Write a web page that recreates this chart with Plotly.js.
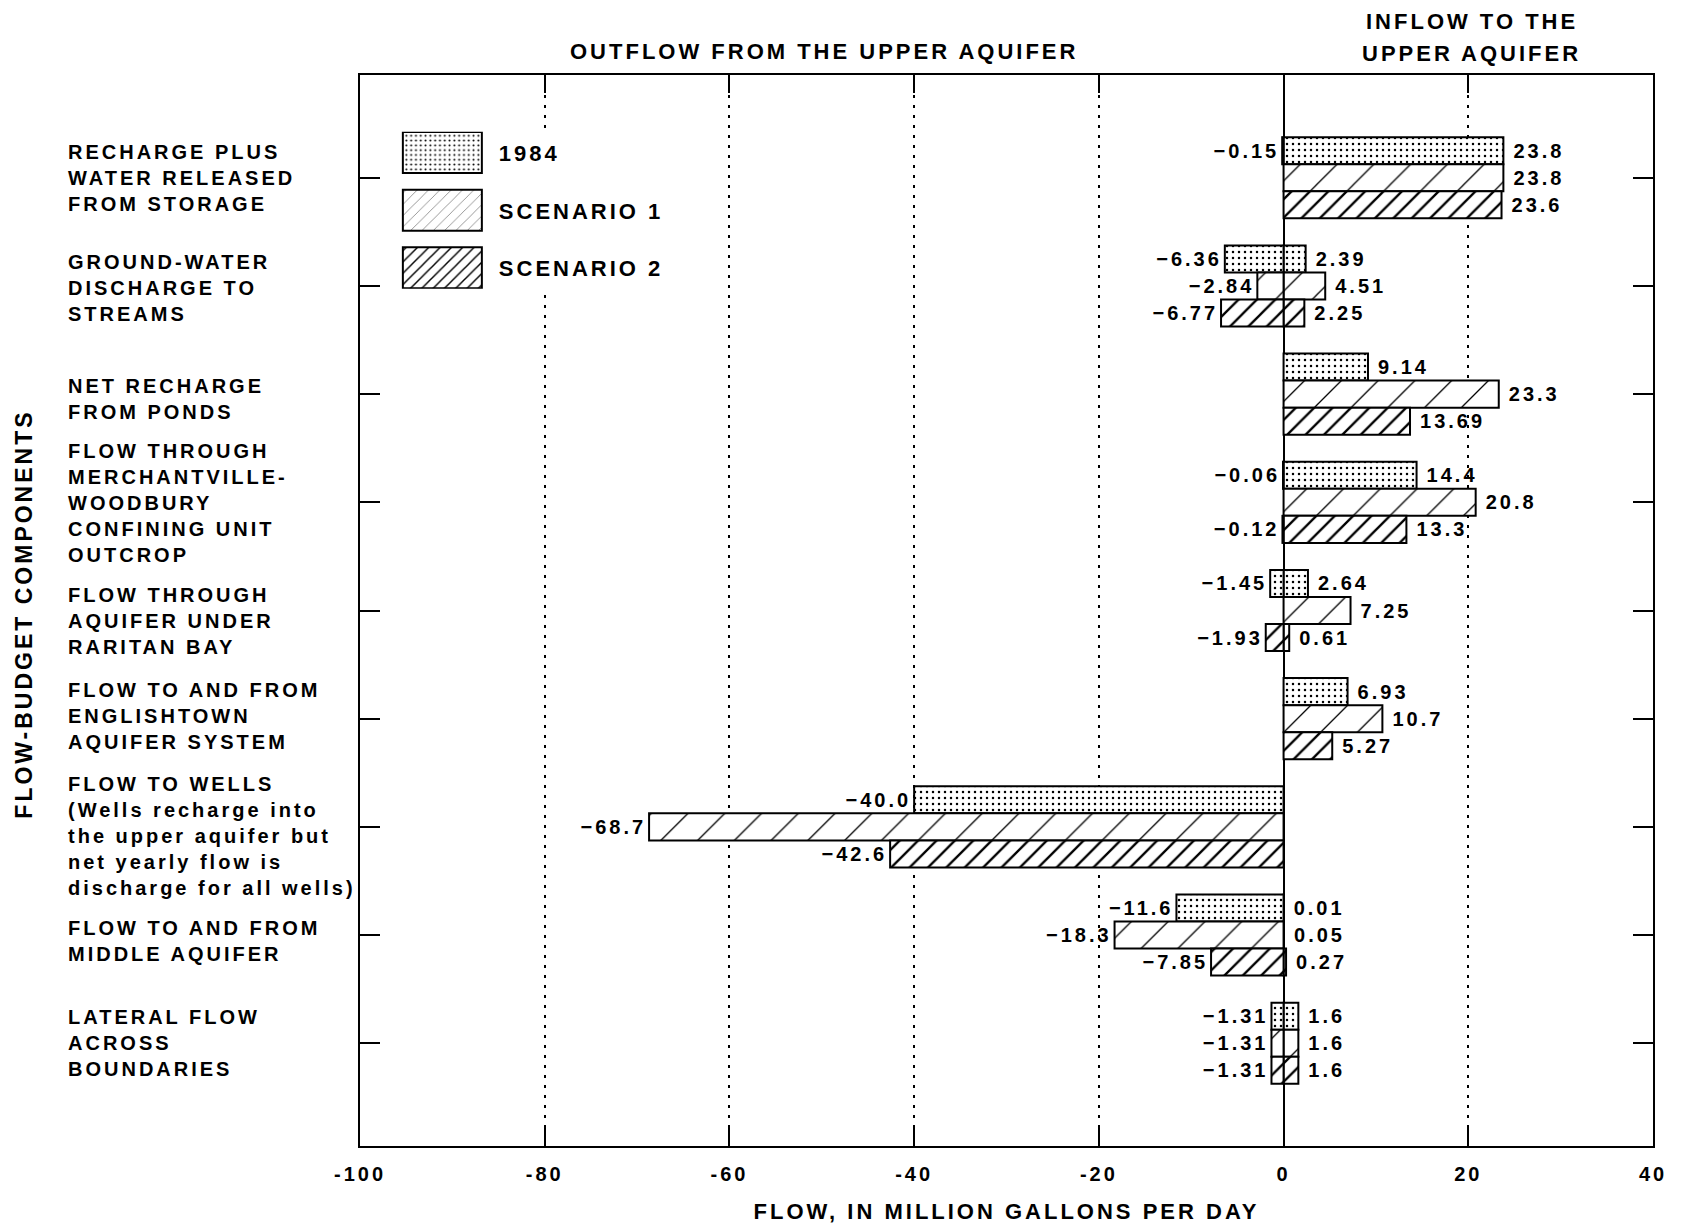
<!DOCTYPE html>
<html>
<head>
<meta charset="utf-8">
<script src="https://cdn.plot.ly/plotly-3.0.1.min.js"></script>
<style>
html, body { margin: 0; padding: 0; background: #ffffff; }
#chart { width: 1682px; height: 1230px; }
text { letter-spacing: 3px; }
</style>
</head>
<body>
<div id="chart"></div>
<script>
// ---- categories (top to bottom) ----
const categories = [
  'RECHARGE PLUS WATER RELEASED FROM STORAGE',
  'GROUND-WATER DISCHARGE TO STREAMS',
  'NET RECHARGE FROM PONDS',
  'FLOW THROUGH MERCHANTVILLE-WOODBURY CONFINING UNIT OUTCROP',
  'FLOW THROUGH AQUIFER UNDER RARITAN BAY',
  'FLOW TO AND FROM ENGLISHTOWN AQUIFER SYSTEM',
  'FLOW TO WELLS',
  'FLOW TO AND FROM MIDDLE AQUIFER',
  'LATERAL FLOW ACROSS BOUNDARIES'
];
const categoryLabels = [
  'RECHARGE PLUS<br>WATER RELEASED<br>FROM STORAGE',
  'GROUND-WATER<br>DISCHARGE TO<br>STREAMS',
  'NET RECHARGE<br>FROM PONDS',
  'FLOW THROUGH<br>MERCHANTVILLE-<br>WOODBURY<br>CONFINING UNIT<br>OUTCROP',
  'FLOW THROUGH<br>AQUIFER UNDER<br>RARITAN BAY',
  'FLOW TO AND FROM<br>ENGLISHTOWN<br>AQUIFER SYSTEM',
  'FLOW TO WELLS<br>(Wells recharge into<br>the upper aquifer but<br>net yearly flow is<br>discharge for all wells)',
  'FLOW TO AND FROM<br>MIDDLE AQUIFER',
  'LATERAL FLOW<br>ACROSS<br>BOUNDARIES'
];

// ---- series names ----
const seriesNames = ['1984', 'SCENARIO 1', 'SCENARIO 2'];

// ---- values, million gallons per day (outflow negative, inflow positive) ----
const outflow1984 = [-0.15, -6.36, null, -0.06, -1.45, null, -40.0, -11.6, -1.31];
const inflow1984  = [23.8, 2.39, 9.14, 14.4, 2.64, 6.93, null, 0.01, 1.6];
const outflowS1   = [null, -2.84, null, null, null, null, -68.7, -18.3, -1.31];
const inflowS1    = [23.8, 4.51, 23.3, 20.8, 7.25, 10.7, null, 0.05, 1.6];
const outflowS2   = [null, -6.77, null, -0.12, -1.93, null, -42.6, -7.85, -1.31];
const inflowS2    = [23.6, 2.25, 13.69, 13.3, 0.61, 5.27, null, 0.27, 1.6];

// ---- value labels as printed ----
const outLabels1984 = ['\u22120.15', '\u22126.36', null, '\u22120.06', '\u22121.45', null, '\u221240.0', '\u221211.6', '\u22121.31'];
const inLabels1984  = ['23.8', '2.39', '9.14', '14.4', '2.64', '6.93', null, '0.01', '1.6'];
const outLabelsS1   = [null, '\u22122.84', null, null, null, null, '\u221268.7', '\u221218.3', '\u22121.31'];
const inLabelsS1    = ['23.8', '4.51', '23.3', '20.8', '7.25', '10.7', null, '0.05', '1.6'];
const outLabelsS2   = [null, '\u22126.77', null, '\u22120.12', '\u22121.93', null, '\u221242.6', '\u22127.85', '\u22121.31'];
const inLabelsS2    = ['23.6', '2.25', '13.69', '13.3', '0.61', '5.27', null, '0.27', '1.6'];

// ---- x axis ticks ----
const xTickVals = [-100, -80, -60, -40, -20, 0, 20, 40];
const xTickText = ['-100', '-80', '-60', '-40', '-20', '0', '20', '40'];

// ---- text ----
const xTitle = 'FLOW, IN MILLION GALLONS PER DAY';
const yTitle = 'FLOW-BUDGET COMPONENTS';
const outflowHeader = 'OUTFLOW FROM THE UPPER AQUIFER';
const inflowHeader = ['INFLOW TO THE', 'UPPER AQUIFER'];

// ---- styling ----
const FONT = 'Liberation Sans, Arial, Helvetica, sans-serif';
const patterns = [
  {shape: '.', size: 6, solidity: 0.14, fgcolor: '#000', bgcolor: '#fff', fillmode: 'replace'},
  {shape: '/', size: 26, solidity: 0.05, fgcolor: '#000', bgcolor: '#fff', fillmode: 'replace'},
  {shape: '/', size: 13, solidity: 0.18, fgcolor: '#000', bgcolor: '#fff', fillmode: 'replace'}
];
const offsets = [-0.375, -0.125, 0.125];
const BAR_W = 0.25;
const THIN = '\u2009';
// small vertical nudges (px) of the left-hand labels, as set in the original artwork
const labelNudge = [0, -2, -5, -1, -10, 3, -9, -6, 0];

const outs = [outflow1984, outflowS1, outflowS2];
const ins = [inflow1984, inflowS1, inflowS2];
const outLabels = [outLabels1984, outLabelsS1, outLabelsS2];
const inLabels = [inLabels1984, inLabelsS1, inLabelsS2];

function barTrace(i, vals, labels, inflow) {
  return {
    type: 'bar',
    orientation: 'h',
    name: seriesNames[i],
    legendgroup: 'g' + i,
    showlegend: inflow,
    x: vals,
    y: categories,
    offset: offsets[i],
    width: BAR_W,
    text: labels.map(s => s === null ? null : (inflow ? THIN + s : s)),
    textposition: 'outside',
    constraintext: 'none',
    cliponaxis: false,
    textfont: {family: FONT, size: 20, color: '#000', weight: 700},
    marker: {color: '#fff', pattern: patterns[i], line: {color: '#000', width: 2}},
    hoverinfo: 'skip'
  };
}

const data = [];
for (let i = 0; i < 3; i++) {
  data.push(barTrace(i, ins[i], inLabels[i], true));
  data.push(barTrace(i, outs[i], outLabels[i], false));
}

const annotations = [];
categories.forEach((c, k) => {
  annotations.push({
    xref: 'paper', yref: 'y', x: -0.2274, y: c, yshift: labelNudge[k],
    xanchor: 'left', yanchor: 'middle', align: 'left',
    text: categoryLabels[k], showarrow: false,
    font: {family: FONT, size: 20, color: '#000', weight: 700}
  });
});
annotations.push({
  xref: 'paper', yref: 'paper', x: 0.359, y: 1.0224,
  xanchor: 'center', yanchor: 'middle', text: outflowHeader, showarrow: false,
  font: {family: FONT, size: 22, color: '#000', weight: 700}
});
inflowHeader.forEach((t, k) => {
  annotations.push({
    xref: 'paper', yref: 'paper', x: 0.86, y: [1.0504, 1.0205][k],
    xanchor: 'center', yanchor: 'middle', text: t, showarrow: false,
    font: {family: FONT, size: 22, color: '#000', weight: 700}
  });
});
annotations.push({
  xref: 'paper', yref: 'paper', x: -0.2599, y: 0.497,
  xanchor: 'center', yanchor: 'middle', text: yTitle, textangle: -90, showarrow: false,
  font: {family: FONT, size: 23, color: '#000', weight: 700}
});

const layout = {
  width: 1682, height: 1230,
  margin: {l: 360, r: 29, t: 75, b: 84},
  paper_bgcolor: '#fff', plot_bgcolor: '#fff',
  barmode: 'overlay',
  showlegend: true,
  font: {family: FONT, color: '#000'},
  legend: {
    x: 0.02, y: 0.947, xanchor: 'left', yanchor: 'top',
    bgcolor: '#fff', borderwidth: 0,
    font: {family: FONT, size: 22, color: '#000', weight: 700},
    itemwidth: 103, tracegroupgap: 26, traceorder: 'grouped'
  },
  xaxis: {
    range: [-100, 40], tickmode: 'array', tickvals: xTickVals, ticktext: xTickText,
    ticks: 'inside', ticklen: 18, tickwidth: 2, tickcolor: '#000',
    showline: true, linewidth: 2, linecolor: '#000', mirror: 'ticks',
    showgrid: true, gridcolor: '#000', gridwidth: 2, griddash: '3px,7px',
    zeroline: true, zerolinecolor: '#000', zerolinewidth: 2,
    tickfont: {family: FONT, size: 20, color: '#000', weight: 700},
    ticklabelstandoff: 9,
    title: {text: xTitle, font: {family: FONT, size: 22, color: '#000', weight: 700}, standoff: 20},
    fixedrange: true
  },
  yaxis: {
    type: 'category', categoryorder: 'array', categoryarray: categories,
    range: [8.95, -0.95],
    ticks: 'inside', ticklen: 20, tickwidth: 2, tickcolor: '#000',
    showline: true, linewidth: 2, linecolor: '#000', mirror: 'ticks',
    showticklabels: false, showgrid: false, zeroline: false,
    fixedrange: true
  },
  annotations: annotations
};

Plotly.newPlot('chart', data, layout, {displayModeBar: false, staticPlot: true}).then(gd => {
  // enlarge legend swatches to match the boxed keys of the original
  gd.querySelectorAll('.legend .legendpoints path').forEach(p => {
    p.setAttribute('d', 'M-39.5,-20.5H39.5V20.5H-39.5Z');
  });
});
</script>
</body>
</html>
